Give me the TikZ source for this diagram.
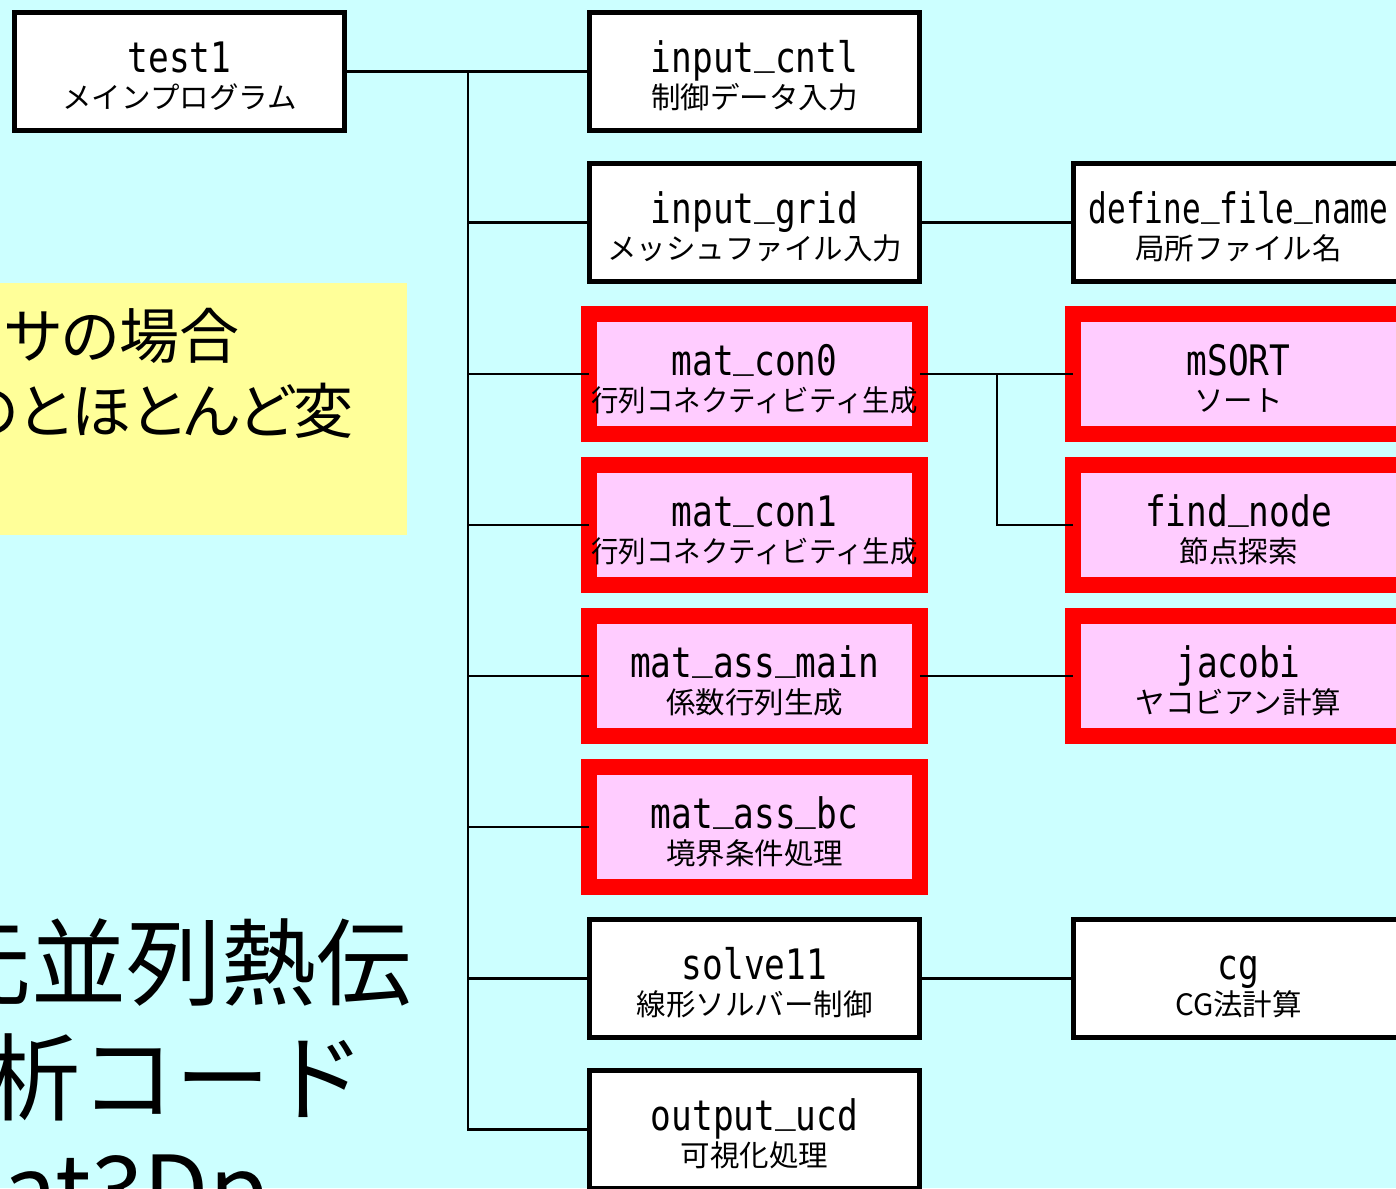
\documentclass[tikz,border=0pt]{standalone}
\usepackage{fontspec}
\usepackage{graphicx}
\newfontfamily\jp{Noto Sans CJK JP}
\newfontfamily\jpp[RawFeature=+palt]{Noto Sans CJK JP}
\newfontfamily\lat[FakeStretch=0.82]{DejaVu Sans Mono}
\newfontfamily\latn[FakeStretch=0.74]{DejaVu Sans Mono}
\newcommand\us{\raisebox{9pt}{\_}}
\definecolor{bgcyan}{RGB}{204,255,255}
\definecolor{ylw}{RGB}{255,255,153}
\definecolor{pnk}{RGB}{255,204,255}
\tikzset{
  wbox/.style={draw=black, line width=5pt, fill=white, minimum width=330pt, minimum height=118pt, inner sep=0pt, outer sep=0pt},
  rbox/.style={draw=red, line width=16pt, fill=pnk, minimum width=331pt, minimum height=120pt, inner sep=0pt, outer sep=0pt},
  ttl/.style={anchor=base, inner sep=0pt, font=\lat\fontsize{42}{42}\selectfont},
  sub/.style={anchor=base, inner sep=0pt, font=\jp\fontsize{29.5}{30}\selectfont},
  big/.style={anchor=base west, inner sep=0pt},
  conn/.style={line width=2.5pt, black}
}
\newcommand\mkbox[6]{%
  \node[#2] (#1) at (#3,#4) {};
  \node[ttl] (#1t) at ([yshift=-1pt]#1.center) {#5};
  \node[sub] (#1s) at ([yshift=-37pt]#1.center) {#6};
}
\begin{document}
\begin{tikzpicture}[x=1pt,y=-1pt]
\useasboundingbox (0,0) rectangle (1396,1188);
\clip (0,0) rectangle (1396,1188);
\fill[bgcyan] (0,0) rectangle (1396,1188);
% yellow note
\fill[ylw] (0,283) rectangle (407,535);
\node[big, font=\jpp\fontsize{60}{60}\selectfont] (y1) at (5,358) {サの場合};
\node[big, font=\jpp\fontsize{60}{60}\selectfont] (y2) at (-40,433) {のとほとんど変};
% title text
\node[big, font=\jpp\fontsize{95}{95}\selectfont] (t1) at (-64,998) {元並列熱伝};
\node[big, font=\jp\fontsize{95}{95}\selectfont] (t2) at (-15,1113) {析コード};
\node[big, font=\jpp\fontsize{95}{95}\selectfont] (t3) at (3,1224) {at3Dp};
% boxes
\mkbox{a1}{wbox}{179.5}{71.5}{test1}{メインプログラム}
\mkbox{c1}{wbox}{754.5}{71.5}{input\us cntl}{制御データ入力}
\mkbox{c2}{wbox}{754.5}{222.5}{input\us grid}{メッシュファイル入力}
\mkbox{c3}{rbox}{754.5}{374}{mat\us con0}{\scalebox{0.93}[1]{行列コネクティビティ生成}}
\mkbox{c4}{rbox}{754.5}{525}{mat\us con1}{\scalebox{0.93}[1]{行列コネクティビティ生成}}
\mkbox{c5}{rbox}{754.5}{676}{mat\us ass\us main}{係数行列生成}
\mkbox{c6}{rbox}{754.5}{827}{mat\us ass\us bc}{境界条件処理}
\mkbox{c7}{wbox}{754.5}{978.5}{solve11}{線形ソルバー制御}
\mkbox{c8}{wbox}{754.5}{1129.5}{output\us ucd}{可視化処理}
\mkbox{d1}{wbox}{1238.5}{222.5}{{\latn define\us file\us name}}{局所ファイル名}
\mkbox{d2}{rbox}{1238.5}{374}{mSORT}{ソート}
\mkbox{d3}{rbox}{1238.5}{525}{find\us node}{節点探索}
\mkbox{d4}{rbox}{1238.5}{676}{jacobi}{ヤコビアン計算}
\mkbox{d5}{wbox}{1238.5}{978.5}{cg}{CG法計算}
% connectors
\draw[conn] (a1.east) -- (c1.west);
\coordinate (tk) at (468,71.5);
\draw[conn] (tk) -- (tk |- c8.west) -- (c8.west);
\foreach \n in {c2,c3,c4,c5,c6,c7}{
  \draw[conn] (tk |- \n.west) -- (\n.west);
}
\draw[conn] (c2.east) -- (d1.west);
\draw[conn] (c3.east) -- (d2.west);
\coordinate (jn) at (997,374);
\draw[conn] (jn) |- (d3.west);
\draw[conn] (c5.east) -- (d4.west);
\draw[conn] (c7.east) -- (d5.west);
\end{tikzpicture}
\end{document}
